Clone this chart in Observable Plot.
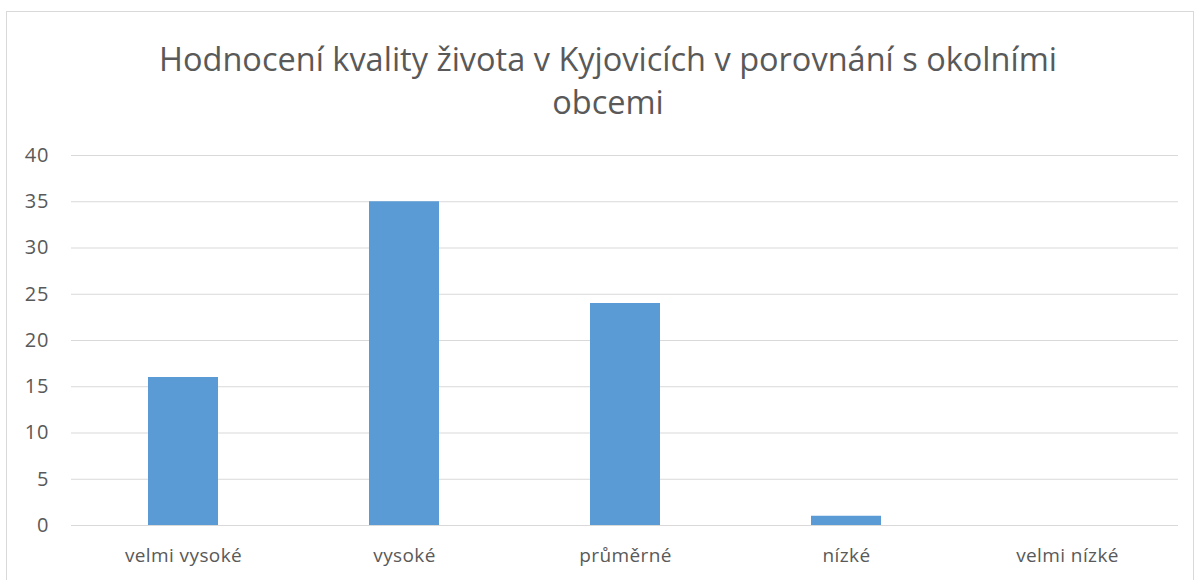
<!DOCTYPE html>
<html>
<head>
<meta charset="utf-8">
<script src="https://cdn.jsdelivr.net/npm/d3@7"></script>
<script src="https://cdn.jsdelivr.net/npm/@observablehq/plot@0.6"></script>
<style>
  html, body { margin: 0; padding: 0; background: #fff; }
  #frame { position: relative; width: 1200px; height: 580px; overflow: hidden; font-family: "Open Sans", sans-serif; }
  #border { position: absolute; left: 6px; top: 11px; width: 1188px; height: 600px; border: 1px solid #d9d9d9; box-sizing: border-box; }
  #title { position: absolute; left: 58px; width: 1100px; top: 37px; text-align: center; font-size: 32.5px; line-height: 43px; color: #595959; }
  #chart { position: absolute; left: 0; top: 125px; }
  #chart svg text { font-size: 19px; fill: #595959; letter-spacing: 0.4px; font-family: "Open Sans", sans-serif; }
  #chart svg g[aria-label="y-axis tick label"] text { font-size: 20px; letter-spacing: 1px; }
</style>
</head>
<body>
<div id="frame">
  <div id="border"></div>
  <div id="title">Hodnocení kvality života v Kyjovicích v porovnání s okolními<br>obcemi</div>
  <div id="chart"></div>
</div>
<script>
const categories = ["velmi vysoké", "vysoké", "průměrné", "nízké", "velmi nízké"];
const values = [16, 35, 24, 1, 0];
const yTicks = [0, 5, 10, 15, 20, 25, 30, 35, 40];

const data = categories.map((c, i) => ({category: c, value: values[i]}));

const chart = Plot.plot({
  width: 1200,
  height: 455,
  marginLeft: 71,
  marginRight: 22,
  marginTop: 30,
  marginBottom: 55,
  style: {fontFamily: "Open Sans, sans-serif", fontSize: "19px", color: "#595959", background: "transparent"},
  x: {domain: categories, paddingInner: 0.684, paddingOuter: 0.342, label: null},
  y: {domain: [0, 40], label: null},
  marks: [
    Plot.gridY(yTicks, {stroke: "#d9d9d9", strokeOpacity: 1, strokeWidth: 1}),
    Plot.barY(data, {x: "category", y: "value", fill: "#5b9bd5"}),
    Plot.axisX({tickSize: 0, tickPadding: 23, fill: "#595959"}),
    Plot.axisY({ticks: yTicks, tickSize: 0, tickPadding: 22, fill: "#595959"})
  ]
});
document.getElementById("chart").appendChild(chart);
</script>
</body>
</html>
